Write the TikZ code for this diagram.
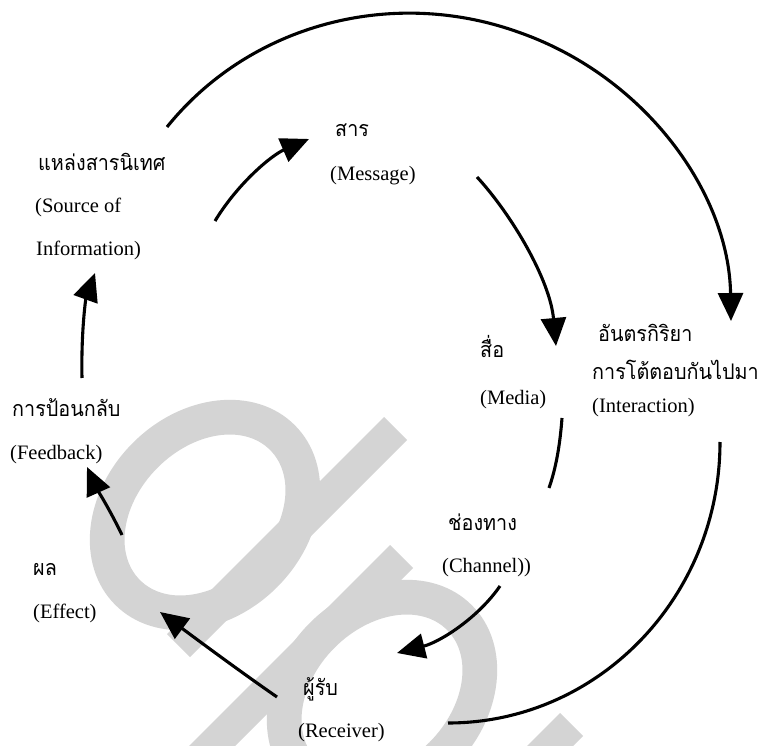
\documentclass[tikz,border=0pt]{standalone}
\usepackage{fontspec}
\setmainfont{Liberation Serif}
\newfontfamily\thai[Script=Thai,FakeStretch=0.92]{Loma}
\usetikzlibrary{arrows.meta}
\definecolor{wm}{RGB}{212,212,212}
\begin{document}
\begin{tikzpicture}[x=1pt,y=-1pt,
  en/.style={inner sep=0pt, anchor=base west, font=\fontsize{20.5}{24}\selectfont},
  th/.style={inner sep=0pt, anchor=base west, font=\thai\fontsize{21.5}{24}\selectfont},
  arr/.style={line width=3.1pt, -{Triangle[length=28pt,width=25pt]}},
  ln/.style={line width=3.1pt}]
\fill[white] (0,0) rectangle (764,746);
\useasboundingbox (0,0) rectangle (764,746);
% watermark
\begin{scope}
\clip (0,0) rectangle (764,746);
\fill[wm, even odd rule, shift={(205,515)}, rotate=45] (0,0) ellipse[x radius=127pt, y radius=102pt] (0,0) ellipse[x radius=92pt, y radius=67pt];
\fill[wm] (384,417) -- (407,440) -- (190,657) -- (167,634) -- cycle;
\fill[wm, even odd rule, shift={(382,695)}, rotate=45] (0,0) ellipse[x radius=127pt, y radius=102pt] (0,0) ellipse[x radius=92pt, y radius=67pt];
\fill[wm] (390,545) -- (413,568) -- (163,818) -- (140,795) -- cycle;
\fill[wm] (560,713) -- (583,736) -- (483,836) -- (460,813) -- cycle;
\end{scope}
% labels
\node[th] (src1) at (38,171) {แหล่งสารนิเทศ};
\node[en] (src2) at (35,213) {(Source of};
\node[en] (src3) at (36,256) {Information)};
\node[th] (msg1) at (335,137) {สาร};
\node[en] (msg2) at (330,181) {(Message)};
\node[th] (int1) at (598,342) {อันตรกิริยา};
\node[th] (int2) at (592,380) {การโต้ตอบกันไปมา};
\node[en] (int3) at (592,413) {(Interaction)};
\node[th] (med1) at (480,358) {สื่อ};
\node[en] (med2) at (480,404) {(Media)};
\node[th] (fb1) at (12,417) {การป้อนกลับ};
\node[en] (fb2) at (10,459) {(Feedback)};
\node[th] (ef1) at (33,575) {ผล};
\node[en] (ef2) at (33,618) {(Effect)};
\node[th] (ch1) at (448,530) {ช่องทาง};
\node[en] (ch2) at (442,572) {(Channel))};
\node[th] (rc1) at (303,695) {ผู้รับ};
\node[en] (rc2) at (298,737) {(Receiver)};
% connector ends
\coordinate (a1s) at (215,221); \coordinate (a1e) at (309,139);
\coordinate (a2s) at (167,127); \coordinate (a2m) at (518,32); \coordinate (a2e) at (731,321);
\coordinate (a3s) at (477,177); \coordinate (a3e) at (556,346);
\coordinate (a4s) at (562,418); \coordinate (a4e) at (549,488);
\coordinate (a5s) at (500,586); \coordinate (a5e) at (397,653);
\coordinate (a6s) at (720,442); \coordinate (a6e) at (448,723);
\coordinate (a7s) at (277,697); \coordinate (a7e) at (160,612);
\coordinate (a8s) at (122,535); \coordinate (a8e) at (87,467);
\coordinate (a9s) at (82,378); \coordinate (a9e) at (95,273);
% connectors
\draw[arr] (a1s) .. controls (238,183) and (272,155) .. (a1e);
\draw[arr] (a2s) .. controls (250,24) and (392,-13) .. (a2m) .. controls (645,76) and (729,193) .. (a2e);
\draw[arr] (a3s) .. controls (512,215) and (550,280) .. (a3e);
\draw[ln] (a4s) .. controls (560,445) and (556,468) .. (a4e);
\draw[arr] (a5s) .. controls (478,618) and (440,642) .. (a5e);
\draw[ln] (a6s) .. controls (720,597) and (598,723) .. (a6e);
\draw[arr] (a7s) .. controls (238,670) and (195,638) .. (a7e);
\draw[arr] (a8s) .. controls (110,510) and (96,487) .. (a8e);
\draw[arr] (a9s) .. controls (81,330) and (86,298) .. (a9e);
\end{tikzpicture}
\end{document}
